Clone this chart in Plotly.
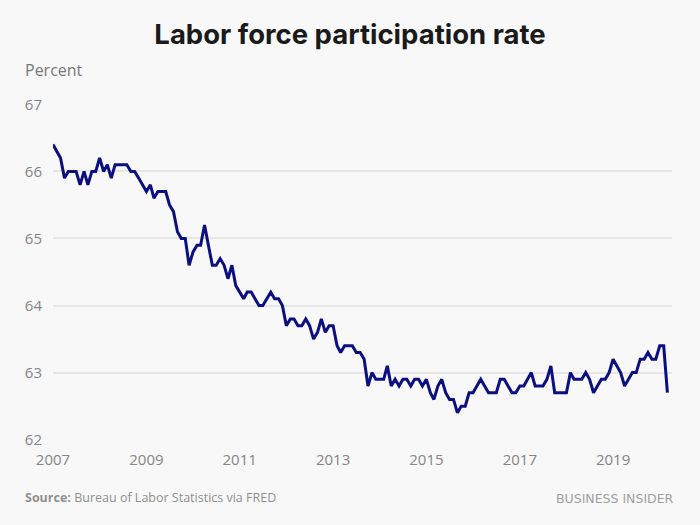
import pandas as pd
import plotly.graph_objects as go

start_month = "2007-01-01"
rate = [
    66.4, 66.3, 66.2, 65.9, 66.0, 66.0, 66.0, 65.8, 66.0, 65.8, 66.0, 66.0,
    66.2, 66.0, 66.1, 65.9, 66.1, 66.1, 66.1, 66.1, 66.0, 66.0, 65.9, 65.8,
    65.7, 65.8, 65.6, 65.7, 65.7, 65.7, 65.5, 65.4, 65.1, 65.0, 65.0, 64.6,
    64.8, 64.9, 64.9, 65.2, 64.9, 64.6, 64.6, 64.7, 64.6, 64.4, 64.6, 64.3,
    64.2, 64.1, 64.2, 64.2, 64.1, 64.0, 64.0, 64.1, 64.2, 64.1, 64.1, 64.0,
    63.7, 63.8, 63.8, 63.7, 63.7, 63.8, 63.7, 63.5, 63.6, 63.8, 63.6, 63.7,
    63.7, 63.4, 63.3, 63.4, 63.4, 63.4, 63.3, 63.3, 63.2, 62.8, 63.0, 62.9,
    62.9, 62.9, 63.1, 62.8, 62.9, 62.8, 62.9, 62.9, 62.8, 62.9, 62.9, 62.8,
    62.9, 62.7, 62.6, 62.8, 62.9, 62.7, 62.6, 62.6, 62.4, 62.5, 62.5, 62.7,
    62.7, 62.8, 62.9, 62.8, 62.7, 62.7, 62.7, 62.9, 62.9, 62.8, 62.7, 62.7,
    62.8, 62.8, 62.9, 63.0, 62.8, 62.8, 62.8, 62.9, 63.1, 62.7, 62.7, 62.7,
    62.7, 63.0, 62.9, 62.9, 62.9, 63.0, 62.9, 62.7, 62.8, 62.9, 62.9, 63.0,
    63.2, 63.1, 63.0, 62.8, 62.9, 63.0, 63.0, 63.2, 63.2, 63.3, 63.2, 63.2,
    63.4, 63.4, 62.7,
]
dates = pd.date_range(start_month, periods=len(rate), freq="MS")

y_ticks = [62, 63, 64, 65, 66, 67]
x_tick_years = ["2007", "2009", "2011", "2013", "2015", "2017", "2019"]

bg = "#f8f8f8"
fig = go.Figure()
fig.add_trace(go.Scatter(
    x=dates, y=rate, mode="lines",
    line=dict(color="#0b0f80", width=3),
    hoverinfo="skip",
))

fig.update_layout(
    width=700, height=525,
    paper_bgcolor=bg, plot_bgcolor=bg,
    margin=dict(l=53, r=28, t=104, b=85),
    showlegend=False,
    font=dict(family="Open Sans, sans-serif", color="#888888"),
    title=dict(
        text="<b>Labor force participation rate</b>",
        x=0.5, xanchor="center", xref="container",
        y=1 - 34 / 525, yanchor="middle", yref="container",
        font=dict(family="Inter, sans-serif", size=27.5, color="#1a1a1a"),
    ),
)
fig.update_xaxes(
    type="date",
    range=["2007-01-01", "2020-04-06"],
    tickvals=[pd.Timestamp(y + "-01-01") for y in x_tick_years],
    ticktext=x_tick_years,
    showgrid=False, zeroline=False, showline=False,
    ticks="", ticklabelstandoff=9,
    tickfont=dict(size=15, color="#858585"),
)
fig.update_yaxes(
    range=[61.995, 67.005],
    tickvals=y_ticks,
    ticktext=[str(v) for v in y_ticks],
    showgrid=True, gridcolor="#e6e6e6", gridwidth=1.5,
    zeroline=False, showline=False,
    ticks="", ticklabelstandoff=10,
    tickfont=dict(size=15, color="#858585"),
)

fig.add_annotation(
    text="Percent", xref="paper", yref="paper",
    x=-30 / 619, y=1 + 34 / 336, xanchor="left", yanchor="middle",
    showarrow=False, font=dict(size=16, color="#777777"),
)
fig.add_annotation(
    text="<b>Source:</b> Bureau of Labor Statistics via FRED",
    xref="paper", yref="paper",
    x=-30 / 619, y=-(497 - 440) / 336, xanchor="left", yanchor="middle",
    showarrow=False, font=dict(size=12.5, color="#8f8f8f"),
)
fig.add_annotation(
    text="BUSINESS INSIDER",
    xref="paper", yref="paper",
    x=1 + 4 / 619, y=-(498 - 440) / 336, xanchor="right", yanchor="middle",
    showarrow=False, font=dict(size=12.5, color="#a0a0a0", family="DejaVu Sans, sans-serif"),
)

fig.write_html(
    "out.html",
    config={"displayModeBar": False},
    post_script="document.body.style.margin='0';",
)
